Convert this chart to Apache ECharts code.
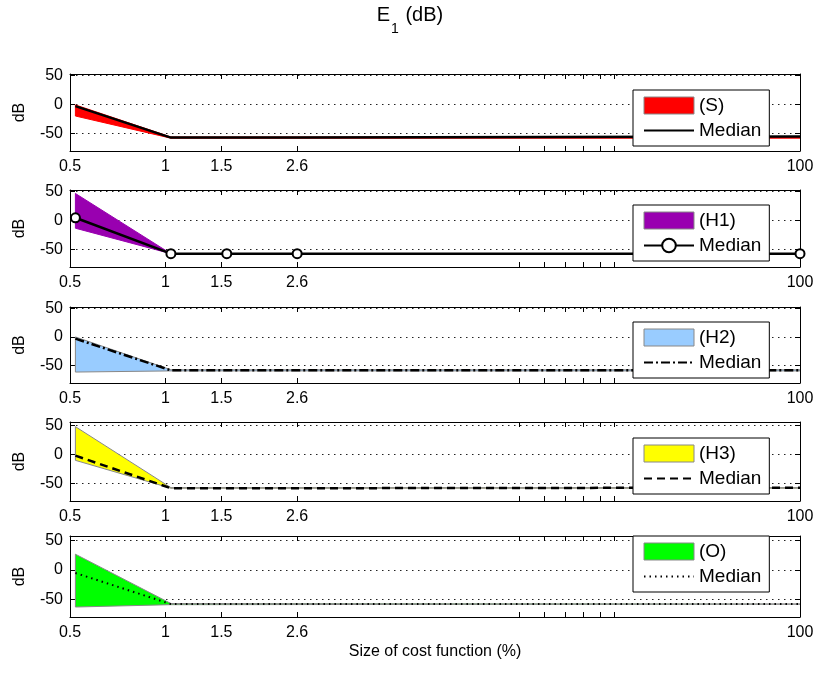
<!DOCTYPE html>
<html>
<head>
<meta charset="utf-8">
<script src="https://cdn.jsdelivr.net/npm/echarts@6/dist/echarts.min.js"></script>
<style>html,body{margin:0;padding:0;background:#fff}#main{width:820px;height:673px}</style>
</head>
<body>
<div id="main"></div>
<script>
// data
var panelNames = ['(S)', '(H1)', '(H2)', '(H3)', '(O)'];
var xTicks = [0.5, 1, 1.5, 2.6, 100];
var xMinorTicks = [13, 15.6, 18.2, 20.8, 23.4, 26];
var yTicks = [-50, 0, 50];
var yMax = [52, 53, 52, 56, 58];
var yMin = -80;

var bandX = [0.52, 1.04, 100];
var bandUpper = [
    [-1, -56, -56],
    [47, -57, -57],
    [0, -57, -57],
    [48, -57, -57],
    [27, -57, -58]
];
var bandLower = [
    [-20, -58, -58],
    [-13, -57, -57],
    [-61, -59, -59],
    [-10, -58, -58],
    [-63, -59, -58]
];

var medianX = [0.52, 1.04, 1.56, 2.6, 100];
var medianValues = [
    [-3, -57, -57, -57, -55],
    [5, -57, -57, -57, -57],
    [-3, -58, -58, -58, -58],
    [-2, -58, -58, -58, -57],
    [-5, -58, -58, -58, -58]
];

// layout / styles
var font = 'Liberation Sans, Arial, sans-serif';
var gridTops = [74, 190, 307, 422, 536];
var gridHeights = [77, 77, 76, 79, 81];
var legendTops = [90, 205, 322, 438, 536];
var fills = ['#ff0000', '#9900b0', '#99ccff', '#ffff00', '#00ff00'];
var edges = ['#ff0000', '#9900b0', '#888888', '#888888', '#888888'];
var dashes = ['solid', 'solid', [9, 3, 2, 3], [8, 5], [1.5, 4]];

var grids = [], xAxes = [], yAxes = [], series = [], legends = [];

function legendName(name) {
    return name.indexOf('Median') === 0 ? 'Median' : name;
}

// band drawn as one polygon: lower edge left->right, upper edge right->left
function bandRenderer(idx) {
    return function (params, api) {
        if (params.dataIndex !== 0) return null;
        var pts = [];
        for (var k = 0; k < bandX.length; k++) pts.push(api.coord([bandX[k], bandLower[idx][k]]));
        for (var k2 = bandX.length - 1; k2 >= 0; k2--) pts.push(api.coord([bandX[k2], bandUpper[idx][k2]]));
        return {
            type: 'polygon',
            shape: {points: pts},
            style: {fill: fills[idx], stroke: edges[idx], lineWidth: 1}
        };
    };
}

for (var i = 0; i < 5; i++) {
    grids.push({left: 70, right: 20, top: gridTops[i], height: gridHeights[i]});

    ['bottom', 'top'].forEach(function (pos) {
        xAxes.push({
            type: 'log', logBase: 10, gridIndex: i, min: 0.5, max: 100, position: pos,
            axisLine: {show: true, onZero: false, lineStyle: {color: '#000', width: 1}},
            axisTick: {show: true, inside: true, length: 5, customValues: xTicks.concat(xMinorTicks), lineStyle: {color: '#000'}},
            axisLabel: {show: pos === 'bottom', customValues: xTicks, margin: 8, fontSize: 16, color: '#000', fontFamily: font,
                formatter: function (v) { return String(v); }},
            splitLine: {show: false},
            name: (i === 4 && pos === 'bottom') ? 'Size of cost function (%)' : '',
            nameLocation: 'middle', nameGap: 27,
            nameTextStyle: {fontSize: 16, color: '#000', fontFamily: font}
        });
    });

    ['left', 'right'].forEach(function (pos) {
        yAxes.push({
            type: 'value', gridIndex: i, min: yMin, max: yMax[i], position: pos,
            name: pos === 'left' ? 'dB' : '', nameLocation: 'middle', nameGap: 42,
            nameTextStyle: {fontSize: 16, color: '#000', fontFamily: font},
            axisLine: {show: true, onZero: false, lineStyle: {color: '#000', width: 1}},
            axisTick: {show: true, inside: true, length: 5, customValues: yTicks, lineStyle: {color: '#000'}},
            axisLabel: {show: pos === 'left', customValues: yTicks, margin: 7, fontSize: 16, color: '#000', fontFamily: font},
            splitLine: {show: pos === 'left', lineStyle: {color: '#222', type: [1.5, 4.5], width: 1}}
        });
    });

    series.push({
        name: panelNames[i], type: 'custom', xAxisIndex: i * 2, yAxisIndex: i * 2,
        data: bandX.map(function (x, k) { return [x, bandLower[i][k], bandUpper[i][k]]; }),
        encode: {x: 0, y: [1, 2]},
        renderItem: bandRenderer(i),
        itemStyle: {color: fills[i]},
        clip: true, silent: true, z: 2
    });
    series.push({
        name: 'Median ' + panelNames[i], type: 'line', xAxisIndex: i * 2, yAxisIndex: i * 2,
        data: medianX.map(function (x, k) { return [x, medianValues[i][k]]; }),
        symbol: i === 1 ? 'emptyCircle' : 'none', symbolSize: 9, showSymbol: i === 1,
        silent: true, z: 5,
        itemStyle: {color: '#000', borderColor: '#000', borderWidth: 2},
        lineStyle: {color: '#000', width: i === 4 ? 2 : 2.5, type: dashes[i]}
    });

    legends.push({
        orient: 'vertical', left: 633, top: legendTops[i],
        data: [
            {name: panelNames[i], icon: 'rect', itemStyle: {color: fills[i], borderColor: '#888', borderWidth: 1}},
            i === 1 ? {name: 'Median ' + panelNames[i]} : {name: 'Median ' + panelNames[i], itemStyle: {opacity: 0}}
        ],
        formatter: legendName,
        itemWidth: 50, itemHeight: 17, itemGap: 6,
        padding: [6, 8, 6, 10],
        backgroundColor: '#fff', borderColor: '#000', borderWidth: 1, borderRadius: 0,
        textStyle: {fontSize: 19, color: '#000', fontFamily: font},
        selectedMode: false, z: 10
    });
}

var myChart = echarts.init(document.getElementById('main'));
var option = {
    animation: false,
    backgroundColor: '#fff',
    title: {
        text: '{a|E}{s|1}{a| (dB)}',
        left: 'center', top: 0,
        textStyle: {
            rich: {
                a: {fontSize: 20, lineHeight: 24, verticalAlign: 'top', color: '#000', fontWeight: 'normal', fontFamily: font},
                s: {fontSize: 14, lineHeight: 16, padding: [17, 1, 0, 1], verticalAlign: 'top', color: '#000', fontWeight: 'normal', fontFamily: font}
            }
        }
    },
    legend: legends,
    grid: grids,
    xAxis: xAxes,
    yAxis: yAxes,
    series: series
};
myChart.setOption(option);
</script>
</body>
</html>
